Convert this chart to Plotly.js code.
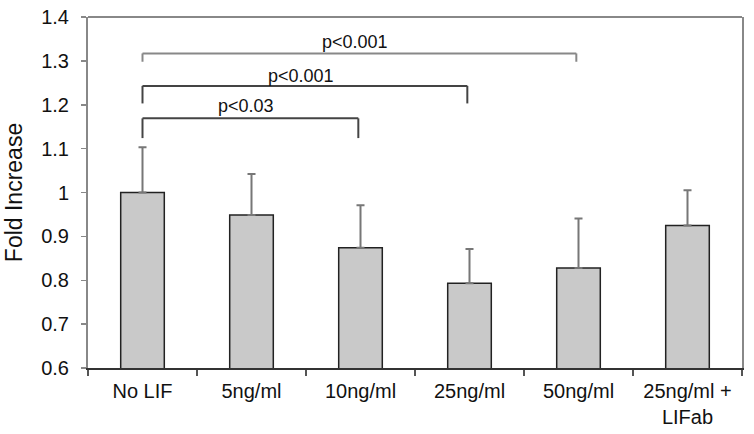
<!DOCTYPE html>
<html>
<head>
<meta charset="utf-8">
<script src="https://cdn.plot.ly/plotly-3.0.1.min.js"></script>
<style>html,body{margin:0;padding:0;background:#fff;}#chart{width:754px;height:434px;}</style>
</head>
<body>
<div id="chart"></div>
<script>
// Data
const categories = ["No LIF", "5ng/ml", "10ng/ml", "25ng/ml", "50ng/ml", "25ng/ml +<br>LIFab"];
const foldIncrease = [1.0, 0.949, 0.874, 0.793, 0.828, 0.925];
const errorUp = [0.103, 0.093, 0.097, 0.078, 0.113, 0.080];
const yTickVals = [0.6, 0.7, 0.8, 0.9, 1.0, 1.1, 1.2, 1.3, 1.4];
const yTickText = ["0.6", "0.7", "0.8", "0.9", "1", "1.1", "1.2", "1.3", "1.4"];

// Significance brackets
const bracketFrom = [0, 0, 0];
const bracketTo = [2, 3, 4];
const bracketTop = [1.169, 1.243, 1.317];
const bracketBottom = [1.124, 1.203, 1.298];
const bracketLabels = ["p<0.03", "p<0.001", "p<0.001"];
const labelY = [1.197, 1.266, 1.343];
const bracketColors = ["#444444", "#444444", "#888888"];

const font = "Arial, 'Liberation Sans', Helvetica, sans-serif";

const trace = {
  type: "bar",
  x: categories,
  y: foldIncrease,
  base: 0,
  marker: { color: "#c9c9c9", line: { color: "#222222", width: 1.5 } },
  error_y: {
    type: "data", symmetric: false, array: errorUp,
    arrayminus: errorUp.map(() => 0),
    color: "#777777", thickness: 2, width: 4
  },
  hoverinfo: "none"
};

const shapes = [];
const annotations = [];
for (let i = 0; i < bracketFrom.length; i++) {
  const a = bracketFrom[i], b = bracketTo[i] - 0.02;
  const line = { color: bracketColors[i], width: 2 };
  shapes.push({ type: "line", xref: "x", yref: "y", x0: a, x1: b, y0: bracketTop[i], y1: bracketTop[i], line });
  shapes.push({ type: "line", xref: "x", yref: "y", x0: a, x1: a, y0: bracketTop[i], y1: bracketBottom[i], line });
  shapes.push({ type: "line", xref: "x", yref: "y", x0: b, x1: b, y0: bracketTop[i], y1: bracketBottom[i], line });
  annotations.push({
    xref: "x", yref: "y", x: (a + b) / 2 - 0.04, y: labelY[i],
    text: bracketLabels[i], showarrow: false, xanchor: "center", yanchor: "middle",
    font: { family: font, size: 18, color: "#111" }
  });
}
// top frame line
shapes.push({ type: "line", xref: "paper", yref: "paper", x0: 0, x1: 1, y0: 1, y1: 1, line: { color: "#888888", width: 2 } });

const layout = {
  width: 754, height: 434,
  margin: { l: 88, r: 12, t: 17, b: 66 },
  paper_bgcolor: "#ffffff", plot_bgcolor: "#ffffff",
  showlegend: false,
  bargap: 0.6,
  font: { family: font, color: "#111" },
  xaxis: {
    type: "category",
    showline: true, linecolor: "#333333", linewidth: 2,
    ticks: "outside", tickson: "boundaries", ticklen: 6, tickcolor: "#555555", tickwidth: 1.5,
    tickfont: { family: font, size: 20, color: "#111" },
    ticklabelstandoff: 4,
    showgrid: false, zeroline: false, fixedrange: true
  },
  yaxis: {
    range: [0.6, 1.4],
    tickvals: yTickVals, ticktext: yTickText,
    showline: true, linecolor: "#888888", linewidth: 2, mirror: true,
    ticks: "outside", ticklen: 5, tickcolor: "#888888", tickwidth: 1.5,
    tickfont: { family: font, size: 20, color: "#111" },
    ticklabelstandoff: 8,
    showgrid: false, zeroline: false, fixedrange: true,
    title: { text: "Fold Increase", font: { family: font, size: 23, color: "#111" }, standoff: 12 }
  },
  shapes: shapes,
  annotations: annotations
};

Plotly.newPlot("chart", [trace], layout, { displayModeBar: false, staticPlot: true });
</script>
</body>
</html>
